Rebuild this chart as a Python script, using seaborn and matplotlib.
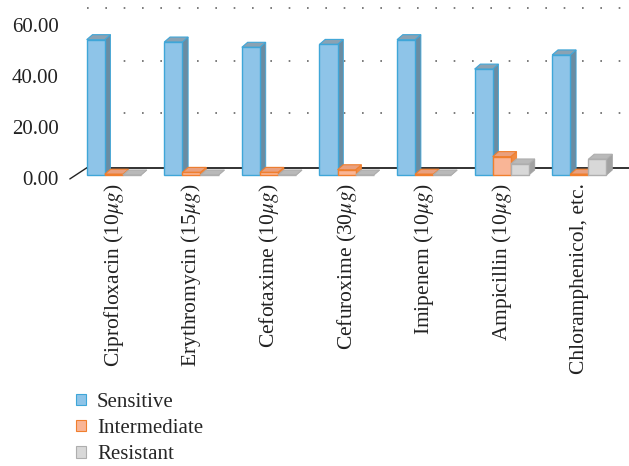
import matplotlib
matplotlib.use("Agg")
import matplotlib.pyplot as plt
import seaborn as sns
import pandas as pd
from matplotlib.patches import Polygon, Patch

categories = ["Ciprofloxacin (10$\\mu g$)", "Erythromycin (15$\\mu g$)", "Cefotaxime (10$\\mu g$)",
              "Cefuroxime (30$\\mu g$)", "Imipenem (10$\\mu g$)", "Ampicillin (10$\\mu g$)",
              "Chloramphenicol, etc."]
sensitive = [51.5, 50.6, 48.6, 49.7, 51.5, 40.3, 45.7]
intermediate = [0.3, 1.0, 1.0, 2.0, 0.3, 7.0, 0.3]
resistant = [0.0, 0.0, 0.0, 0.0, 0.0, 4.2, 6.0]
series = ["Sensitive", "Intermediate", "Resistant"]
yticks = [0, 20, 40, 60]

sns.set_theme(style="white")
plt.rcParams["font.family"] = ["Liberation Serif", "DejaVu Serif"]
plt.rcParams["mathtext.fontset"] = "stix"

df = pd.DataFrame({
    "drug": categories * 3,
    "value": sensitive + intermediate + resistant,
    "series": [s for s in series for _ in categories],
})

front = {"Sensitive": "#8EC4E8", "Intermediate": "#F9B596", "Resistant": "#D8D8D8"}
edge = {"Sensitive": "#3FA6D8", "Intermediate": "#F07F2E", "Resistant": "#AEAEAE"}
side = {"Sensitive": "#6A8CA2", "Intermediate": "#F08A42", "Resistant": "#A2A2A2"}
top = {"Sensitive": "#8AA2B3", "Intermediate": "#E9A07E", "Resistant": "#B9B9B9"}

fig = plt.figure(figsize=(6.29, 4.66), dpi=100)
ax = fig.add_axes([0.111, 0.616, 0.889, 0.375])

sns.barplot(data=df, x="drug", y="value", hue="series", order=categories,
            hue_order=series, palette=front, width=0.7, ax=ax, legend=False,
            saturation=1)

dx, dy = 0.075, 1.9
for cont, name in zip(ax.containers, series):
    for rect in cont:
        x0 = rect.get_x(); w = rect.get_width()
        y0 = rect.get_y(); h = rect.get_height()
        x1 = x0 + w; y1 = y0 + h
        rect.set_edgecolor(edge[name]); rect.set_linewidth(1.0)
        rect.set_facecolor(front[name])
        zz = 3 + 3 * (x0 + 10)
        rect.set_zorder(zz + 0.2)
        sp = Polygon([(x1, y0), (x1 + dx, y0 + dy), (x1 + dx, y1 + dy), (x1, y1)],
                     closed=True, facecolor=side[name],
                     edgecolor=edge[name] if name != "Resistant" else side[name],
                     linewidth=0.6, zorder=zz, clip_on=False)
        tp = Polygon([(x0, y1), (x0 + dx, y1 + dy), (x1 + dx, y1 + dy), (x1, y1)],
                     closed=True, facecolor=top[name], edgecolor=edge[name],
                     linewidth=0.8, zorder=zz + 0.1, clip_on=False)
        ax.add_patch(sp); ax.add_patch(tp)

ax.set_xlim(-0.567, 6.64)
ax.set_ylim(-1.5, 65)

# back wall grid and floor
gx0 = -0.35
for v in yticks[1:]:
    ax.plot([gx0, 6.64], [v + 3.5, v + 3.5], color="#666666", lw=1.2,
            linestyle=(0, (1, 10)), zorder=1)
ax.plot([gx0, 6.64], [2.7, 2.7], color="#222222", lw=1.3, zorder=2)
ax.plot([-0.567, gx0], [-1.5, 2.7], color="#222222", lw=1.0, zorder=2, clip_on=False)

ax.set_yticks([v - 1 - 0.03 * v for v in yticks])
ax.set_yticklabels([f"{v:.2f}" for v in yticks], fontsize=15, color="#222222")
ax.set_xticks(range(len(categories)))
ax.set_xticklabels(categories, rotation=90, fontsize=15.5, color="#222222")
ax.tick_params(axis="y", length=0, pad=8)
ax.tick_params(axis="x", length=0, pad=3)
ax.set_xlabel(""); ax.set_ylabel("")
for s in ax.spines.values():
    s.set_visible(False)
ax.grid(False)

handles = [Patch(facecolor=front[n], edgecolor=edge[n], linewidth=0.8) for n in series]
fig.legend(handles, series, loc="upper left", bbox_to_anchor=(0.108, 0.175),
           frameon=False, fontsize=15, handlelength=0.45, handleheight=0.45,
           handletextpad=0.55, labelspacing=0.35, borderaxespad=0)

fig.savefig("out.png", dpi=100)
